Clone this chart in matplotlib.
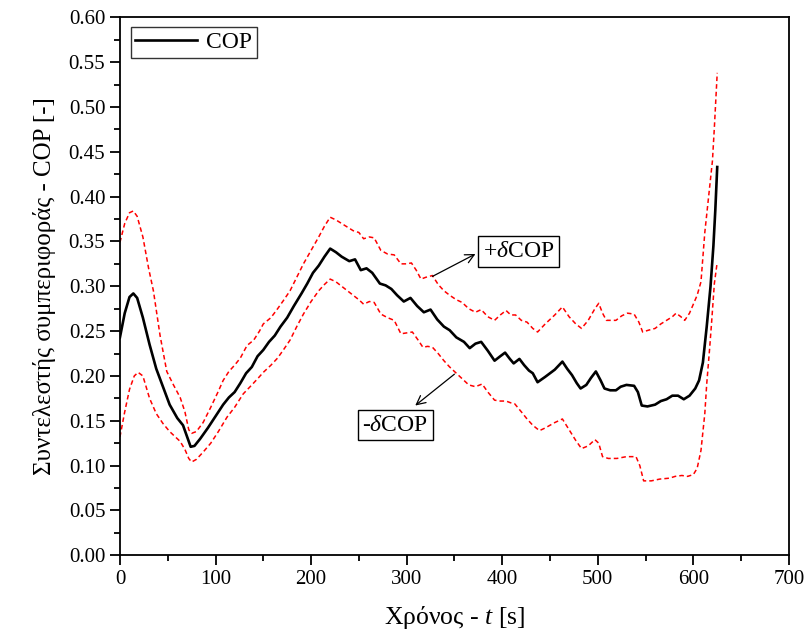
import matplotlib
matplotlib.use("Agg")
import matplotlib.pyplot as plt
from matplotlib.ticker import MultipleLocator, FormatStrFormatter

plt.rcParams['font.family'] = ['Liberation Serif', 'DejaVu Serif']
plt.rcParams['mathtext.fontset'] = 'custom'
plt.rcParams['mathtext.rm'] = 'Liberation Serif'
plt.rcParams['mathtext.it'] = 'Liberation Serif:italic'

# Coefficient of performance over time, with upper / lower uncertainty bounds
t_cop = [0, 5, 10, 14, 18, 24, 31, 38, 45, 52, 60, 66, 70, 74, 78, 84, 92, 100, 108, 114,
         120, 126, 132, 138, 144, 150, 156, 162, 168, 175, 182, 190, 196, 202, 208, 214, 220,
         226, 232, 240, 246, 252, 258, 264, 272, 278, 284, 290, 297, 304, 311, 318, 325, 332,
         339, 345, 352, 360, 366, 372, 378, 385, 392, 398, 403, 408, 412, 418, 423, 428, 432,
         437, 445, 455, 463, 468, 473, 478, 482, 488, 493, 498, 503, 507, 513, 519, 524, 530,
         538, 542, 546, 552, 560, 566, 572, 578, 584, 590, 596, 602, 606, 610, 614, 618, 621,
         623, 625]
cop = [0.243, 0.270, 0.288, 0.292, 0.287, 0.265, 0.235, 0.208, 0.188, 0.168, 0.153, 0.145,
       0.133, 0.121, 0.122, 0.130, 0.142, 0.155, 0.168, 0.176, 0.182, 0.192, 0.203, 0.210,
       0.222, 0.229, 0.238, 0.245, 0.255, 0.265, 0.278, 0.292, 0.303, 0.315, 0.323, 0.333,
       0.342, 0.338, 0.333, 0.328, 0.330, 0.318, 0.320, 0.315, 0.303, 0.301, 0.297, 0.290,
       0.283, 0.287, 0.278, 0.271, 0.274, 0.263, 0.255, 0.251, 0.243, 0.238, 0.231, 0.236,
       0.238, 0.228, 0.217, 0.222, 0.226, 0.219, 0.214, 0.219, 0.212, 0.206, 0.203, 0.193,
       0.199, 0.207, 0.216, 0.208, 0.201, 0.192, 0.186, 0.190, 0.198, 0.205, 0.195, 0.186,
       0.184, 0.184, 0.188, 0.190, 0.189, 0.182, 0.167, 0.166, 0.168, 0.172, 0.174, 0.178,
       0.178, 0.174, 0.178, 0.186, 0.195, 0.215, 0.255, 0.300, 0.345, 0.385, 0.433]

t_up = [0, 5, 10, 14, 18, 24, 30, 35, 42, 49, 56, 63, 68, 72, 75, 80, 87, 95, 103, 108, 114,
        120, 126, 133, 140, 146, 150, 158, 165, 171, 178, 185, 192, 200, 208, 214, 220, 226,
        232, 238, 244, 250, 255, 261, 266, 273, 280, 287, 294, 300, 305, 310, 315, 320, 327,
        333, 339, 345, 352, 358, 365, 372, 378, 385, 392, 398, 404, 409, 414, 420, 426, 432,
        437, 445, 455, 463, 470, 477, 483, 490, 497, 501, 505, 509, 519, 525, 531, 538, 543,
        547, 553, 560, 566, 572, 578, 582, 587, 591, 596, 600, 604, 608, 612, 616, 620, 622,
        625]
cop_up = [0.349, 0.370, 0.382, 0.384, 0.378, 0.355, 0.320, 0.295, 0.245, 0.205, 0.190,
          0.176, 0.160, 0.140, 0.136, 0.138, 0.148, 0.165, 0.183, 0.195, 0.205, 0.212, 0.220,
          0.234, 0.240, 0.250, 0.258, 0.265, 0.275, 0.284, 0.295, 0.310, 0.325, 0.340, 0.355,
          0.367, 0.377, 0.374, 0.370, 0.366, 0.362, 0.360, 0.353, 0.355, 0.354, 0.340, 0.336,
          0.335, 0.325, 0.325, 0.326, 0.318, 0.308, 0.310, 0.312, 0.302, 0.295, 0.290, 0.285,
          0.282, 0.275, 0.271, 0.274, 0.266, 0.262, 0.268, 0.273, 0.268, 0.268, 0.262, 0.260,
          0.253, 0.249, 0.258, 0.268, 0.277, 0.266, 0.258, 0.253, 0.262, 0.275, 0.281, 0.270,
          0.262, 0.262, 0.267, 0.270, 0.269, 0.260, 0.249, 0.251, 0.253, 0.258, 0.262, 0.266,
          0.270, 0.266, 0.262, 0.270, 0.280, 0.290, 0.305, 0.360, 0.400, 0.440, 0.477, 0.538]

t_lo = [0, 5, 10, 15, 19, 24, 31, 38, 45, 52, 58, 63, 68, 72, 75, 80, 87, 95, 103, 112, 120,
        129, 138, 145, 150, 158, 165, 171, 178, 185, 192, 200, 208, 214, 220, 226, 232, 238,
        244, 250, 255, 261, 266, 273, 280, 287, 294, 300, 306, 312, 317, 322, 327, 333, 339,
        345, 352, 358, 365, 372, 379, 385, 392, 398, 404, 409, 413, 420, 426, 432, 439, 445,
        455, 463, 470, 477, 483, 490, 497, 501, 505, 511, 520, 530, 540, 544, 548, 556, 565,
        575, 581, 588, 594, 600, 604, 608, 612, 614, 617, 619, 622, 625]
cop_lo = [0.132, 0.160, 0.185, 0.200, 0.204, 0.200, 0.175, 0.158, 0.147, 0.138, 0.132,
          0.127, 0.118, 0.108, 0.104, 0.107, 0.115, 0.125, 0.138, 0.154, 0.165, 0.180, 0.190,
          0.198, 0.204, 0.212, 0.220, 0.229, 0.240, 0.255, 0.269, 0.283, 0.295, 0.302, 0.308,
          0.305, 0.300, 0.295, 0.290, 0.285, 0.280, 0.283, 0.282, 0.269, 0.265, 0.262, 0.247,
          0.248, 0.249, 0.240, 0.232, 0.233, 0.232, 0.225, 0.217, 0.210, 0.203, 0.197, 0.190,
          0.188, 0.191, 0.182, 0.173, 0.172, 0.172, 0.170, 0.169, 0.160, 0.152, 0.145, 0.139,
          0.142, 0.148, 0.152, 0.140, 0.128, 0.119, 0.122, 0.129, 0.125, 0.110, 0.108, 0.108,
          0.110, 0.110, 0.100, 0.083, 0.083, 0.085, 0.086, 0.088, 0.089, 0.088, 0.090, 0.097,
          0.117, 0.158, 0.191, 0.230, 0.258, 0.303, 0.327]

fig = plt.figure(figsize=(8.05, 6.39), dpi=100)
ax = fig.add_axes([0.149, 0.131, 0.831, 0.842])

dash = (0, (3.0, 2.0))
ax.plot(t_up, cop_up, color='red', lw=1.1, linestyle=dash)
ax.plot(t_lo, cop_lo, color='red', lw=1.1, linestyle=dash)
ax.plot(t_cop, cop, color='black', lw=1.9, label='COP')

ax.set_xlim(0, 700)
ax.set_ylim(0, 0.60)
ax.xaxis.set_major_locator(MultipleLocator(100))
ax.xaxis.set_minor_locator(MultipleLocator(50))
ax.yaxis.set_major_locator(MultipleLocator(0.05))
ax.yaxis.set_minor_locator(MultipleLocator(0.025))
ax.yaxis.set_major_formatter(FormatStrFormatter('%.2f'))

ax.tick_params(which='major', direction='out', length=7, width=1.3, labelsize=15,
               top=False, right=False)
ax.tick_params(which='minor', direction='out', length=4, width=1.3, top=False, right=False)
for s in ax.spines.values():
    s.set_linewidth(1.3)

ax.set_xlabel('Χρόνος - $t$ [s]', fontsize=18.5, labelpad=11)
ax.set_ylabel('Συντελεστής συμπεριφοράς - COP [-]', fontsize=18, labelpad=9)

leg = ax.legend(loc='upper left', fontsize=17, frameon=True, fancybox=False,
                handlelength=2.6, borderpad=0.2, handletextpad=0.4,
                bbox_to_anchor=(0.016, 0.982), borderaxespad=0)
leg.get_frame().set_edgecolor('black')
leg.get_frame().set_linewidth(1.0)

box = dict(boxstyle='square,pad=0.2', fc='white', ec='black', lw=1.0)
arrow = dict(arrowstyle='->', color='black', lw=0.9, shrinkA=0, shrinkB=0,
             mutation_scale=16)
ax.annotate('', xy=(372, 0.336), xytext=(327, 0.311), arrowprops=arrow)
ax.text(417, 0.339, '+$\\delta$COP', fontsize=17, ha='center', va='center', bbox=box)
ax.annotate('', xy=(309, 0.167), xytext=(350, 0.202), arrowprops=arrow)
ax.text(288, 0.145, '-$\\delta$COP', fontsize=17, ha='center', va='center', bbox=box)

fig.savefig('out.png', dpi=100)
